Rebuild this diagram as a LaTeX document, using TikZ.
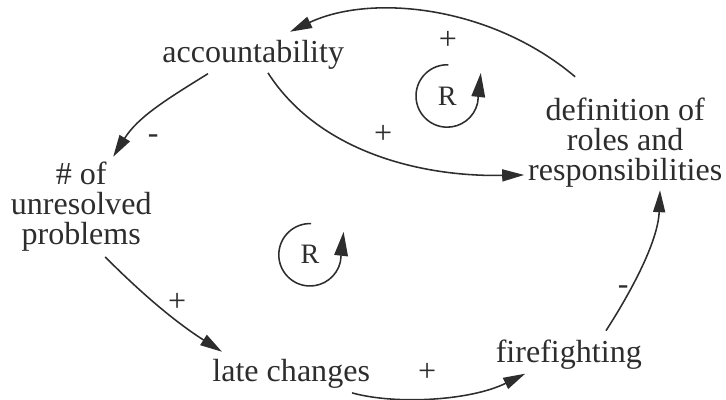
\documentclass[tikz,border=0pt]{standalone}
\usepackage{fontspec}
\setmainfont{Liberation Serif}
\usetikzlibrary{arrows.meta}
\definecolor{cldink}{RGB}{45,45,45}

\begin{document}
\begin{tikzpicture}[line width=1.1pt,
  var/.style={inner sep=0pt, align=center, text=cldink, font=\fontsize{22.8}{21.5}\selectfont},
  sign/.style={inner sep=0pt, text=cldink, font=\fontsize{22.8}{21.5}\selectfont},
  link/.style={cldink, -{Triangle[length=0.55cm,width=0.3cm]}},
  loopline/.style={cldink, -{Triangle[length=0.6cm,width=0.34cm]}}]
  \useasboundingbox (0,0) rectangle (18.15,10);
  \node[var, anchor=base] (acc) at (6.33,8.43) {accountability};
  \node[var, anchor=north] (nof) at (2.03,5.98) {\# of\\unresolved\\problems};
  \node[var, anchor=north] (def) at (15.63,7.58) {definition of\\roles and\\responsibilities};
  \node[var, anchor=base] (late) at (7.28,0.45) {late changes};
  \node[var, anchor=base] (fire) at (14.22,0.93) {firefighting};
  \draw[link] ([shift={(-1.25,0.5)}]def.north) .. controls +(-2.13,1.8) and +(2.0,0.95) .. ([shift={(0.92,0.2)}]acc.north);
  \draw[link] ([shift={(0.37,-0.06)}]acc.south) .. controls +(1.25,-1.95) and +(-2.63,-0.05) .. ([shift={(-0.08,0.33)}]def.south west);
  \draw[link] ([shift={(-1.13,-0.08)}]acc.south) .. controls +(-1.0,-0.62) and +(0.62,1.0) .. ([shift={(0.8,0.1)}]nof.north);
  \draw[link] ([shift={(0.6,-0.12)}]nof.south) .. controls +(0.75,-0.75) and +(-1.3,0.83) .. ([shift={(-1.73,0.18)}]late.north);
  \draw[link] ([shift={(1.52,-0.08)}]late.south) .. controls +(1.08,-0.3) and +(-1.38,-0.68) .. ([shift={(-1.09,-0.08)}]fire.south);
  \draw[link] ([shift={(0.93,0.22)}]fire.north) .. controls +(0.6,0.93) and +(-0.05,-1.3) .. ([shift={(0.87,-0.05)}]def.south);
  % polarities
  \node[sign] (p1) at (11.2,9.0) {+};
  \node[sign] (p2) at (9.58,6.63) {+};
  \node[sign] (p3) at (3.83,6.53) {-};
  \node[sign] (p4) at (4.43,2.43) {+};
  \node[sign] (p5) at (10.68,0.68) {+};
  \node[sign] (p6) at (15.58,2.75) {-};
  % loops
  \node[sign, font=\fontsize{20}{20}\selectfont] (rtop) at (11.18,7.6) {R};
  \node[sign, font=\fontsize{20}{20}\selectfont] (rbot) at (7.75,3.63) {R};
  \foreach \r in {rtop,rbot}
    \draw[loopline] (\r.center) ++(88:0.78) arc[start angle=88,end angle=347,radius=0.78] -- ++(0.08,0.75);
\end{tikzpicture}
\end{document}
